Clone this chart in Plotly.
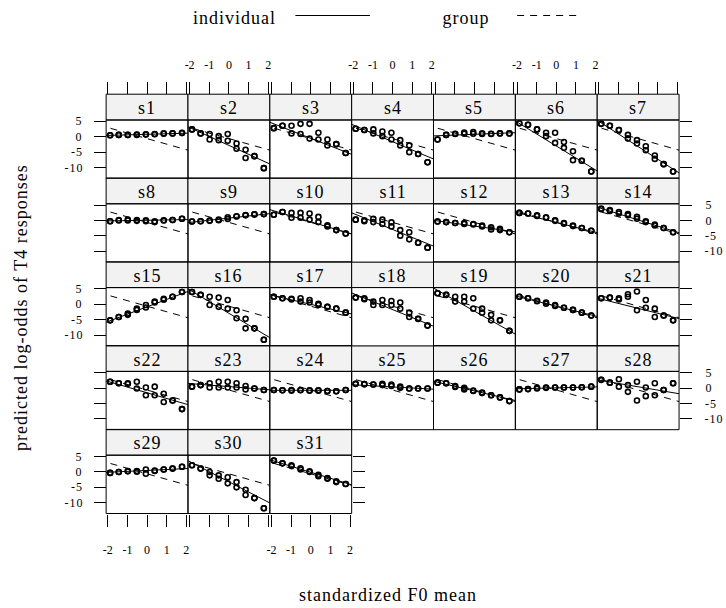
import plotly.graph_objects as go

# ---------------- data ----------------
subjects = [f"s{i}" for i in range(1, 32)]

x_stim = [-1.88, -1.88, -1.44, -1.44, -0.98, -0.98, -0.52, -0.52, -0.06, -0.06,
          0.39, 0.39, 0.85, 0.85, 1.3, 1.3, 1.78, 1.78]

s1_y = [0.5, 0.5, 0.6, 0.6, 0.6, 0.6, 0.7, 0.6, 0.7, 0.8, 0.9, 0.8, 1.0, 1.1, 1.1, 1.1, 1.2, 1.3]
s2_y = [2.4, 2.4, 1.1, 1.1, 0.9, -0.9, 0.2, -1.1, 0.9, -1.3, -2.2, -3.9, -4.2, -6.9, -6.3, -6.3, -10.2, -10.2]
s3_y = [2.8, 2.8, 3.6, 3.6, 3.6, 1.1, 4.2, 0.9, 4.2, -0.6, 1.3, -0.9, -0.9, -2.8, -2.4, -2.4, -5.3, -5.3]
s4_y = [2.6, 2.6, 2.2, 2.2, 2.4, 1.1, 1.7, 0.2, 1.3, -0.9, -1.1, -2.8, -2.8, -5.0, -5.6, -5.6, -8.3, -8.3]
s5_y = [-0.9, -0.9, 0.6, 0.6, 1.0, 0.9, 1.4, 1.0, 1.5, 1.0, 1.1, 0.9, 0.9, 1.0, 1.1, 1.1, 1.1, 1.1]
s6_y = [4.4, 4.4, 3.9, 3.9, 2.4, 2.4, 1.3, 0.2, 1.3, -2.0, -1.7, -3.6, -4.7, -7.6, -7.8, -7.8, -11.3, -11.3]
s7_y = [4.2, 4.2, 3.6, 3.6, 2.2, 2.2, 0.6, -0.6, -1.1, -2.2, -3.1, -4.4, -6.1, -7.2, -8.9, -8.9, -11.3, -11.3]
s8_y = [-0.2, -0.2, 0.2, 0.0, 0.3, 0.0, 0.2, -0.1, 0.1, -0.2, -0.5, -0.2, 0.1, 0.0, 0.2, 0.2, 0.6, 0.6]
s9_y = [-0.3, -0.3, -0.2, -0.2, 0.0, -0.1, 0.3, 0.1, 1.1, 0.5, 1.4, 1.3, 1.8, 1.7, 2.0, 2.0, 2.1, 2.1]
s10_y = [1.9, 1.9, 2.8, 2.8, 2.5, 0.9, 2.5, 0.9, 2.3, 0.3, 1.2, -0.5, -1.9, -1.5, -3.1, -3.1, -4.2, -4.2]
s11_y = [0.3, 0.3, -0.2, 0.1, 0.6, -0.5, 0.3, -1.1, -0.6, -1.9, -3.1, -4.9, -3.8, -6.1, -7.2, -7.2, -8.8, -8.8]
s12_y = [-0.3, -0.3, -0.5, -0.5, -0.8, -0.8, -0.8, -1.1, -1.1, -1.3, -1.6, -1.9, -2.2, -2.9, -3.1, -2.7, -3.8, -3.8]
s13_y = [2.5, 2.5, 2.3, 2.3, 1.7, 1.5, 1.1, 0.9, 0.1, -0.1, -0.8, -1.0, -1.6, -1.8, -2.4, -2.4, -3.3, -3.3]
s14_y = [3.9, 3.7, 3.4, 3.1, 2.8, 2.3, 2.1, 1.7, 1.2, 0.6, -0.2, -0.5, -1.3, -1.6, -2.4, -2.4, -3.8, -3.8]
s15_y = [-5.2, -5.2, -4.1, -4.1, -3.4, -3.0, -1.4, -1.8, -0.2, -1.0, 0.9, 0.6, 1.8, 1.5, 2.5, 2.5, 4.0, 4.0]
s16_y = [4.0, 4.0, 3.1, 3.1, 2.5, -0.2, 2.2, -0.8, 1.4, -1.4, -1.9, -4.5, -4.7, -7.8, -7.8, -7.8, -11.5, -11.5]
s17_y = [2.5, 2.5, 2.0, 2.0, 1.8, 1.6, 2.0, 0.9, 1.4, 0.6, -0.2, 0.2, -0.8, -0.8, -1.4, -1.4, -2.7, -2.7]
s18_y = [2.2, 2.2, 1.7, 2.0, 0.9, -0.2, 1.4, -0.2, 1.1, -0.2, 0.6, -1.4, -2.7, -4.1, -4.7, -4.7, -6.9, -6.9]
s19_y = [3.6, 3.6, 3.1, 3.1, 2.5, 0.9, 2.5, 0.9, 2.0, -1.4, -1.4, -2.7, -3.4, -5.2, -5.2, -5.2, -8.6, -8.6]
s20_y = [2.5, 2.5, 2.0, 2.0, 1.2, 1.0, 0.6, 0.2, -0.2, -0.5, -1.1, -1.1, -1.8, -1.8, -2.7, -2.7, -3.6, -3.6]
s21_y = [2.0, 2.0, 2.2, 2.2, 2.0, 1.6, 3.3, 2.5, 4.2, -1.9, 1.4, -1.1, -1.4, -4.1, -3.6, -3.6, -5.2, -5.2]
s22_y = [2.1, 2.1, 1.6, 1.6, 1.6, 1.4, 2.1, -0.1, 0.2, -2.3, 0.5, -2.3, -1.8, -4.5, -4.0, -4.0, -6.8, -6.8]
s23_y = [0.5, 0.5, 1.0, 1.0, 1.6, 0.2, 2.1, 0.2, 2.1, 0.2, 1.6, 0.2, 0.7, -0.4, -0.1, -0.1, -0.6, -0.6]
s24_y = [-0.6, -0.6, -0.7, -0.7, -0.6, -0.8, -0.6, -0.7, -0.7, -0.8, -0.7, -0.8, -0.9, -0.9, -1.0, -1.0, -0.6, -0.6]
s25_y = [1.4, 1.4, 1.3, 1.3, 1.2, 1.2, 1.4, 1.0, 1.2, 0.7, 0.5, 0.1, -0.1, -0.1, -0.1, -0.1, -0.1, -0.1]
s26_y = [1.8, 1.8, 1.6, 1.6, 0.7, 0.4, 0.1, -0.4, -0.8, -0.9, -1.4, -1.6, -2.3, -2.3, -3.0, -3.0, -4.2, -4.2]
s27_y = [-0.4, -0.4, -0.3, -0.3, -0.1, 0.1, 0.2, 0.1, 0.2, 0.2, 0.2, 0.2, 0.2, 0.2, 0.3, 0.3, 0.5, 0.5]
s28_y = [2.7, 2.7, 1.8, 1.8, 2.9, 0.5, 1.0, -1.2, 2.1, -4.0, 0.2, -2.6, 1.6, -2.3, -0.6, -0.6, 1.6, 1.6]
s29_y = [-0.3, -0.3, 0.0, 0.0, 0.3, 0.2, 0.3, 0.1, 0.8, -0.6, 0.3, 0.5, 0.8, 0.8, 1.1, 1.1, 1.7, 1.7]
s30_y = [2.2, 2.2, 1.1, 1.1, 0.0, -1.1, -1.1, -2.2, -1.7, -3.7, -3.3, -5.0, -5.8, -7.5, -8.5, -8.5, -11.8, -11.8]
s31_y = [3.7, 3.7, 2.8, 2.8, 2.2, 1.9, 1.2, 0.8, 0.2, 0.0, -0.9, -1.4, -2.0, -2.2, -3.0, -3.3, -3.9, -3.9]

# individual regression lines (intercept at x = 0, slope)
ind_intercept = [0.8, -2.8, -0.5, -1.6, 0.8, -3.0, -3.2,
                 0.1, 0.8, -0.4, -2.9, -1.8, -0.6, 0.2,
                 -0.8, -2.9, 0.0, -1.7, -2.2, -0.6, -1.3,
                 -1.5, 0.5, -0.7, 0.4, -0.9, 0.1, 0.45,
                 0.5, -3.2, -0.1]
ind_slope = [0.18, -2.9, -2.5, -2.7, 0.25, -3.9, -4.1,
             0.1, 0.7, -1.9, -2.6, -0.9, -1.6, -2.0,
             2.4, -3.8, -1.5, -2.6, -3.6, -1.6, -1.6,
             -1.85, -0.5, 0.0, -0.35, -1.5, 0.15, -1.08,
             0.3, -3.3, -1.95]

# group (population) line
group_intercept = -0.6
group_slope = -1.8

x_tick_vals = [-2, -1, 0, 1, 2]
x_tick_text = ["-2", "-1", "0", "1", "2"]
y_tick_vals = [-10, -5, 0, 5]
y_tick_text = ["-10", "-5", "0", "5"]

point_sets = [s1_y, s2_y, s3_y, s4_y, s5_y, s6_y, s7_y, s8_y, s9_y, s10_y, s11_y,
              s12_y, s13_y, s14_y, s15_y, s16_y, s17_y, s18_y, s19_y, s20_y, s21_y,
              s22_y, s23_y, s24_y, s25_y, s26_y, s27_y, s28_y, s29_y, s30_y, s31_y]

# ---------------- layout geometry (pixels) ----------------
W, H = 726, 608
L0, PW = 103.7, 82.3
T0, RS, PH, SH = 120.0, 83.8, 58.3, 25.8
XR = [-2.084, 2.084]
YR = [-13.5, 5.45]
SERIF = "Liberation Serif, Times New Roman, serif"
NCOL = 7
TICKLEN = 12
YLAB_GAP_LEFT = 10
YLAB_GAP_RIGHT = 13


def px(v):
    return v / W


def py(v):
    return 1 - v / H


fig = go.Figure()
shapes = []
annotations = []
layout_axes = {}

line_x = [-2.5, 2.5]
tick_font = dict(family=SERIF, size=12, color="black")

for k, subj in enumerate(subjects):
    r, c = divmod(k, NCOL)
    x0 = L0 + c * PW
    x1 = x0 + PW
    top = T0 + r * RS
    bot = top + PH
    xname = "x" if k == 0 else f"x{k + 1}"
    yname = "y" if k == 0 else f"y{k + 1}"
    xkey = "xaxis" if k == 0 else f"xaxis{k + 1}"
    ykey = "yaxis" if k == 0 else f"yaxis{k + 1}"

    xa = dict(domain=[px(x0), px(x1)], range=XR, anchor=yname, showgrid=False,
              zeroline=False, showline=False, ticks="", showticklabels=False,
              fixedrange=True)
    ya = dict(domain=[py(bot), py(top)], range=YR, anchor=xname, showgrid=False,
              zeroline=False, showline=False, ticks="", showticklabels=False,
              fixedrange=True)

    tick_common = dict(ticks="outside", ticklen=TICKLEN, tickwidth=1, tickcolor="black",
                       tickfont=tick_font)
    # top axis ticks on first row (above strips)
    if r == 0:
        xa.update(tick_common)
        xa.update(side="top", anchor="free", position=py(top - SH),
                  tickvals=x_tick_vals, ticktext=x_tick_text,
                  showticklabels=(c % 2 == 1), ticklabelstandoff=8)
    # bottom axis ticks on last row
    if r == 4:
        xa.update(tick_common)
        xa.update(side="bottom", anchor="free", position=py(bot),
                  tickvals=x_tick_vals, ticktext=x_tick_text,
                  showticklabels=(c % 2 == 0), ticklabelstandoff=13)
    # left axis ticks on first column (labels on alternate rows)
    if c == 0:
        ya.update(tick_common)
        ya.update(side="left", anchor="free", position=px(x0),
                  tickvals=y_tick_vals, showticklabels=False)
        if r % 2 == 0:
            for tv, tt in zip(y_tick_vals, y_tick_text):
                annotations.append(dict(text=tt, x=px(x0 - TICKLEN - YLAB_GAP_LEFT), y=tv,
                                        xref="paper", yref=yname, showarrow=False,
                                        xanchor="right", yanchor="middle",
                                        font=tick_font))
    # right axis ticks on last panel of each row (labels on alternate rows)
    if c == NCOL - 1 or k == len(subjects) - 1:
        ya.update(tick_common)
        ya.update(side="right", anchor="free", position=px(x1),
                  tickvals=y_tick_vals, showticklabels=False)
        if r % 2 == 1:
            for tv, tt in zip(y_tick_vals, y_tick_text):
                annotations.append(dict(text=tt, x=px(x1 + TICKLEN + YLAB_GAP_RIGHT), y=tv,
                                        xref="paper", yref=yname, showarrow=False,
                                        xanchor="left", yanchor="middle",
                                        font=tick_font))

    layout_axes[xkey] = xa
    layout_axes[ykey] = ya

    # group line (dashed)
    fig.add_trace(go.Scatter(
        x=line_x, y=[group_intercept + group_slope * v for v in line_x],
        mode="lines", line=dict(color="black", width=1, dash="7px,6px"),
        xaxis=xname, yaxis=yname, showlegend=False, hoverinfo="skip"))
    # individual line (solid)
    fig.add_trace(go.Scatter(
        x=line_x, y=[ind_intercept[k] + ind_slope[k] * v for v in line_x],
        mode="lines", line=dict(color="black", width=1),
        xaxis=xname, yaxis=yname, showlegend=False, hoverinfo="skip"))
    # points
    fig.add_trace(go.Scatter(
        x=x_stim, y=point_sets[k], mode="markers",
        marker=dict(symbol="circle-open", size=5, color="black",
                    line=dict(width=1.6, color="black")),
        xaxis=xname, yaxis=yname, showlegend=False))

    # strip
    shapes.append(dict(type="rect", xref="paper", yref="paper",
                       x0=px(x0), x1=px(x1), y0=py(top), y1=py(top - SH),
                       fillcolor="#f2f2f2", line=dict(color="black", width=1),
                       layer="below"))
    # panel border
    shapes.append(dict(type="rect", xref="paper", yref="paper",
                       x0=px(x0), x1=px(x1), y0=py(bot), y1=py(top),
                       fillcolor="rgba(0,0,0,0)", line=dict(color="black", width=1),
                       layer="above"))
    annotations.append(dict(text=subj, x=px((x0 + x1) / 2), y=py(top - SH / 2 + 1),
                            xref="paper", yref="paper", showarrow=False,
                            xanchor="center", yanchor="middle",
                            font=dict(family=SERIF, size=18, color="black")))

# legend (key at top)
annotations.append(dict(text="individual", x=px(233), y=py(17.5), xref="paper", yref="paper",
                        showarrow=False, xanchor="center", yanchor="middle",
                        font=dict(family=SERIF, size=18, color="black")))
annotations.append(dict(text="group", x=px(466), y=py(17.5), xref="paper", yref="paper",
                        showarrow=False, xanchor="center", yanchor="middle",
                        font=dict(family=SERIF, size=18, color="black")))
shapes.append(dict(type="line", xref="paper", yref="paper", x0=px(294), x1=px(369),
                   y0=py(15.5), y1=py(15.5), line=dict(color="black", width=1)))
shapes.append(dict(type="line", xref="paper", yref="paper", x0=px(517), x1=px(580),
                   y0=py(15.5), y1=py(15.5), line=dict(color="black", width=1, dash="7px,6px")))

# axis titles
annotations.append(dict(text="predicted log-odds of T4 responses", x=px(18), y=py(307),
                        xref="paper", yref="paper", showarrow=False, textangle=-90,
                        xanchor="center", yanchor="middle",
                        font=dict(family=SERIF, size=18, color="black")))
annotations.append(dict(text="standardized F0 mean", x=px(387), y=py(595),
                        xref="paper", yref="paper", showarrow=False,
                        xanchor="center", yanchor="middle",
                        font=dict(family=SERIF, size=18, color="black")))

fig.update_layout(
    width=W, height=H, autosize=False,
    margin=dict(l=0, r=0, t=0, b=0),
    paper_bgcolor="white", plot_bgcolor="white",
    showlegend=False, shapes=shapes, annotations=annotations,
    **layout_axes)

post_js = """
document.body.style.margin='0';
document.body.style.padding='0';
document.body.style.overflow='hidden';
(function(){
  var gd = document.getElementById('{plot_id}');
  function spacing(){
    gd.querySelectorAll('g.annotation text').forEach(function(t){
      t.setAttribute('letter-spacing','1px');
    });
  }
  spacing();
  if (gd.on) { gd.on('plotly_afterplot', spacing); }
  setTimeout(spacing, 0);
})();
"""

fig.write_html("out.html", config={"displayModeBar": False}, post_script=post_js)
